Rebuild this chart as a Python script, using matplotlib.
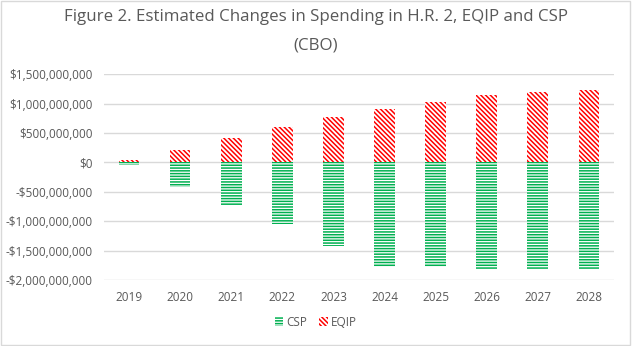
import matplotlib.pyplot as plt
import matplotlib.ticker as mticker
from matplotlib.patches import Rectangle

years = ["2019", "2020", "2021", "2022", "2023", "2024", "2025", "2026", "2027", "2028"]
csp = [-45e6, -420e6, -720e6, -1045e6, -1415e6, -1775e6, -1775e6, -1805e6, -1805e6, -1805e6]
eqip = [40e6, 205e6, 420e6, 595e6, 765e6, 910e6, 1030e6, 1148e6, 1198e6, 1232e6]
yticks = [-2e9, -1.5e9, -1e9, -5e8, 0, 5e8, 1e9, 1.5e9]

text_color = "#595959"
grid_color = "#D9D9D9"
green = "#00B050"
red = "#FF0000"

plt.rcParams["font.family"] = ["Open Sans", "DejaVu Sans"]
plt.rcParams["hatch.linewidth"] = 1.1

fig = plt.figure(figsize=(6.32, 3.46), dpi=100)
ax = fig.add_axes([0.164, 0.1908, 0.808, 0.595])

x = list(range(len(years)))
ax.bar(x, csp, width=0.4, facecolor="white", edgecolor=green, hatch="------",
       linewidth=0, label="CSP", zorder=3)
ax.bar(x, eqip, width=0.4, facecolor="white", edgecolor=red, hatch="\\" * 7,
       linewidth=0, label="EQIP", zorder=3)

ax.set_xlim(-0.5, len(years) - 0.5)
ax.set_ylim(-2e9, 1.5e9)
ax.set_yticks(yticks)


def money(v, pos):
    if v == 0:
        return "$0"
    s = "${:,.0f}".format(abs(v))
    return "-" + s if v < 0 else s


ax.yaxis.set_major_formatter(mticker.FuncFormatter(money))
ax.set_xticks(x)
ax.set_xticklabels(years)
ax.tick_params(axis="both", length=0, labelsize=8.5, labelcolor=text_color)
ax.tick_params(axis="x", pad=8)
ax.tick_params(axis="y", pad=8)
ax.grid(axis="y", color=grid_color, linewidth=1, zorder=0)
for s in ax.spines.values():
    s.set_visible(False)

fig.suptitle("Figure 2. Estimated Changes in Spending in H.R. 2, EQIP and CSP\n(CBO)",
             y=0.973, fontsize=12.2, color=text_color, linespacing=2.0)

leg = fig.legend(loc="center", bbox_to_anchor=(0.5, 0.068), ncol=2, frameon=False,
                 fontsize=8.5, handlelength=0.7, handleheight=0.8, handletextpad=0.3,
                 columnspacing=1.0, labelcolor=text_color)

fig.patches.append(Rectangle((0.002, 0.003), 0.995, 0.993, transform=fig.transFigure,
                             fill=False, edgecolor="#D9D9D9", linewidth=1))

fig.savefig("out.png", dpi=100)
